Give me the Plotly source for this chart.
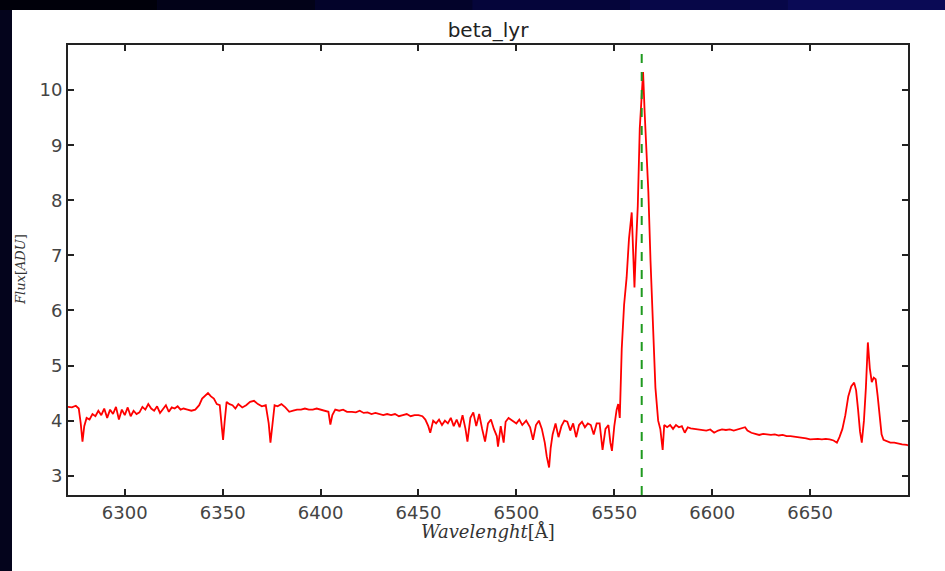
import plotly.graph_objects as go

# spectrum (wavelength in Angstrom, flux in ADU)
wavelength = [
    6271, 6273, 6275, 6276.5, 6277.5, 6278.4, 6279.3, 6280.5, 6282, 6283.5,
    6285, 6286.5, 6288, 6289.5, 6291, 6292.5, 6294, 6295.5, 6297, 6298.5,
    6300, 6301.5, 6303, 6304.5, 6306, 6307.5, 6309, 6310.5, 6312, 6313.5,
    6315, 6316.5, 6318, 6319.5, 6321, 6322.5, 6324, 6325.5, 6327, 6328.5,
    6330, 6332, 6334, 6336, 6338, 6339.5, 6341, 6342.5, 6344, 6345.5,
    6347, 6348.5, 6349.5, 6350.2, 6351, 6352, 6353.5, 6355, 6356.5, 6358,
    6360, 6362, 6364, 6366, 6368, 6370, 6372, 6373.5, 6374.4, 6375.3,
    6376.5, 6378, 6380, 6382, 6384, 6386, 6388, 6390, 6392, 6394,
    6396, 6398, 6400, 6402, 6404, 6405, 6406, 6407.5, 6409.5, 6411.5,
    6413.5, 6416, 6418, 6420, 6422, 6424, 6426, 6428, 6430, 6432,
    6434, 6436, 6438, 6440, 6442, 6444, 6446, 6448, 6450, 6452,
    6453.5, 6455, 6456, 6457.5, 6459, 6460.5, 6462, 6463.5, 6465, 6466.5,
    6468, 6469.5, 6471, 6472.5, 6474, 6475, 6476.5, 6478, 6479.5, 6481,
    6482.5, 6484, 6485.5, 6487, 6488.5, 6490, 6490.6, 6492, 6493.5, 6494.5,
    6496, 6498, 6500, 6501.5, 6503, 6505, 6507, 6508.5, 6510, 6511.5,
    6513, 6514.5, 6515.5, 6516.7, 6517.5, 6518.5, 6520, 6521.5, 6523, 6524.5,
    6526, 6527.5, 6529, 6530.5, 6532, 6533.5, 6535, 6536.5, 6538, 6539.5,
    6541, 6542.5, 6544, 6545.5, 6547, 6548, 6548.8, 6550, 6551.2, 6552,
    6552.8, 6553.8, 6555, 6556.3, 6557.5, 6558.9, 6559.6, 6560.3, 6561, 6562,
    6563, 6564, 6564.7, 6565.5, 6566.5, 6567.4, 6568.5, 6569.8, 6571, 6572.4,
    6573.5, 6574.7, 6575.5, 6577, 6578.5, 6580, 6581.5, 6583, 6584.5, 6586,
    6587.5, 6589, 6591, 6593, 6595, 6597, 6599, 6601, 6603, 6605,
    6607, 6609, 6611, 6613, 6615, 6616.8, 6618, 6620, 6622, 6624,
    6626, 6628, 6630, 6632, 6634, 6636, 6638, 6640, 6642, 6644,
    6646, 6648, 6650, 6652, 6654, 6656, 6658, 6660, 6662, 6663.7,
    6665, 6666.5, 6668, 6669.5, 6671, 6672.5, 6673.5, 6674.5, 6675.5, 6676.4,
    6677.5, 6678.5, 6679.5, 6680.5, 6681.5, 6682.5, 6683.5, 6684.5, 6685.5, 6686.5,
    6687.5, 6689, 6691, 6693, 6695, 6697, 6699.4, 6700,
]
flux = [
    4.25, 4.24, 4.27, 4.22, 3.95, 3.62, 3.9, 4.05, 4.02, 4.12,
    4.08, 4.18, 4.1, 4.22, 4.05, 4.2, 4.12, 4.25, 4.02, 4.2,
    4.1, 4.24, 4.08, 4.18, 4.12, 4.15, 4.25, 4.2, 4.3, 4.22,
    4.18, 4.26, 4.14, 4.2, 4.28, 4.16, 4.24, 4.22, 4.26, 4.2,
    4.22, 4.2, 4.18, 4.2, 4.28, 4.4, 4.46, 4.5, 4.44, 4.4,
    4.3, 4.28, 3.9, 3.65, 3.98, 4.34, 4.3, 4.28, 4.22, 4.3,
    4.24, 4.28, 4.34, 4.36, 4.3, 4.26, 4.28, 3.95, 3.6, 3.95,
    4.28, 4.26, 4.3, 4.24, 4.16, 4.18, 4.2, 4.2, 4.22, 4.2,
    4.2, 4.22, 4.2, 4.18, 4.16, 3.93, 4.1, 4.2, 4.18, 4.2,
    4.16, 4.16, 4.15, 4.18, 4.14, 4.15, 4.12, 4.14, 4.12, 4.1,
    4.12, 4.1, 4.12, 4.08, 4.1, 4.12, 4.08, 4.1, 4.1, 4.08,
    4.02, 3.9, 3.78, 4.0, 3.95, 4.02, 3.92, 4.0, 3.95, 4.05,
    3.9, 4.02, 3.88, 4.1, 3.85, 3.62, 4.05, 4.15, 3.9, 4.12,
    3.85, 3.62, 3.95, 4.02, 3.85, 3.72, 3.53, 3.9, 3.6, 3.98,
    4.05, 4.0, 3.95, 4.02, 3.92, 4.0, 3.88, 3.65, 3.92, 4.0,
    3.85, 3.6, 3.35, 3.15, 3.5, 3.75, 3.95, 3.7, 3.9, 4.0,
    3.98, 3.82, 3.95, 3.7, 3.92, 3.98, 3.88, 3.95, 3.92, 3.75,
    3.95, 3.95, 3.47, 3.85, 3.92, 3.6, 3.45, 3.9, 4.2, 4.3,
    4.05, 5.3, 6.1, 6.6, 7.3, 7.78, 7.0, 6.42, 7.1, 7.9,
    9.3, 10.0, 10.33, 9.6, 8.9, 8.15, 6.9, 5.6, 4.6, 4.0,
    3.85, 3.47, 3.92, 3.88, 3.92, 3.85, 3.92, 3.88, 3.9, 3.78,
    3.88, 3.86, 3.85, 3.84, 3.83, 3.82, 3.84, 3.78, 3.82, 3.84,
    3.83, 3.84, 3.82, 3.84, 3.85, 3.88, 3.82, 3.78, 3.76, 3.74,
    3.76, 3.75, 3.74, 3.75, 3.73, 3.74, 3.72, 3.72, 3.71, 3.7,
    3.7, 3.68, 3.66, 3.67, 3.67, 3.66, 3.67, 3.66, 3.64, 3.6,
    3.7, 3.85, 4.1, 4.44, 4.62, 4.69, 4.55, 4.2, 3.8, 3.6,
    4.0, 4.6, 5.42, 4.95, 4.7, 4.78, 4.75, 4.45, 4.1, 3.75,
    3.65, 3.63, 3.6, 3.6, 3.58, 3.57, 3.56, 3.55,
]
halpha = 6564
x_ticks = [6300, 6350, 6400, 6450, 6500, 6550, 6600, 6650]
y_ticks = [3, 4, 5, 6, 7, 8, 9, 10]

W, H = 945, 571
L, R, T, B = 68, 37, 45, 76
pw, ph = W - L - R, H - T - B


def px(x):
    # pixel column -> paper x
    return (x - L) / pw


def py(y):
    # pixel row (from top) -> paper y
    return (H - B - y) / ph


fig = go.Figure()
fig.add_trace(go.Scatter(x=wavelength, y=flux, mode="lines",
                         line=dict(color="red", width=1.8), showlegend=False))

# dark slide background with a white panel
shapes = []
band = ["#00000a", "#020218", "#03032a", "#05053a", "#070748", "#0a0a55"]
for i, c in enumerate(band):
    shapes.append(dict(type="rect", xref="paper", yref="paper", layer="below",
                       x0=px(i * W / len(band)), x1=px((i + 1) * W / len(band)),
                       y0=py(10), y1=py(0), fillcolor=c, line_width=0))
shapes.append(dict(type="rect", xref="paper", yref="paper", layer="below",
                   x0=px(0), x1=px(12), y0=py(H), y1=py(10),
                   fillcolor="#04041c", line_width=0))
shapes.append(dict(type="rect", xref="paper", yref="paper", layer="below",
                   x0=px(12), x1=px(W), y0=py(H), y1=py(10),
                   fillcolor="white", line_width=0))
shapes.append(dict(type="line", xref="x", yref="paper", x0=halpha, x1=halpha,
                   y0=0, y1=1, line=dict(color="#1f9a1f", width=2, dash="dash")))

axis_style = dict(showline=True, linecolor="#222", linewidth=2, mirror="allticks",
                  ticks="inside", ticklen=6, tickwidth=1.5, tickcolor="#222",
                  showgrid=False, zeroline=False,
                  tickfont=dict(family="DejaVu Sans", size=18, color="#444"))

fig.update_layout(
    width=W, height=H,
    margin=dict(l=L, r=R, t=T, b=B),
    paper_bgcolor="#060630", plot_bgcolor="white",
    shapes=shapes,
    title=dict(text="beta_lyr", x=0.5, xref="paper", y=1 - 30 / H, yanchor="middle",
               font=dict(family="DejaVu Sans", size=20, color="#222")),
    xaxis=dict(range=[6271, 6700], tickvals=x_ticks, **axis_style),
    yaxis=dict(range=[2.65, 10.82], tickvals=y_ticks, **axis_style),
    annotations=[
        dict(text="<i>Wavelenght</i>[Å]", xref="paper", yref="paper", x=0.5, y=0,
             yanchor="middle", yshift=-36, showarrow=False,
             font=dict(family="DejaVu Serif", size=18, color="#333")),
        dict(text="<i>Flux</i>[<i>ADU</i>]", xref="paper", yref="paper", x=0, y=0.5,
             xanchor="center", xshift=-48, textangle=-90, showarrow=False,
             font=dict(family="DejaVu Serif", size=13, color="#333")),
    ],
)

fig.write_html("out.html", config={"displayModeBar": False},
               post_script="document.body.style.margin='0';")
